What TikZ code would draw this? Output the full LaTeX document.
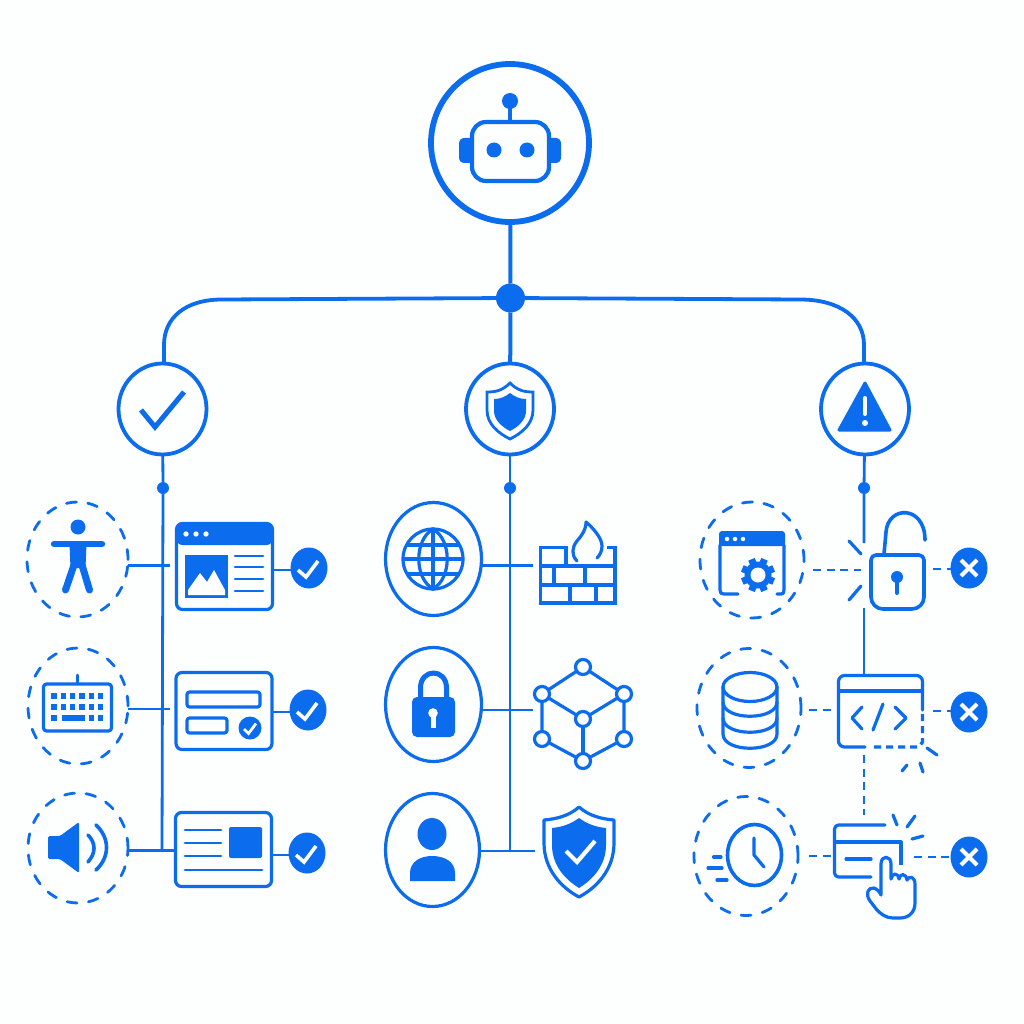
\documentclass[tikz,border=0pt]{standalone}
\usetikzlibrary{shapes.geometric,calc}
\definecolor{bl}{HTML}{0B6CEE}
\definecolor{bg}{HTML}{FDFEFE}
\tikzset{
  x=1pt,y=-1pt,
  every path/.style={line cap=round,line join=round},
  hubline/.style={draw=bl,line width=4pt,line cap=butt},
  wire/.style={draw=bl,line width=2.8pt,line cap=butt},
  dwire/.style={draw=bl,line width=2.8pt,line cap=butt,dash pattern=on 8pt off 5.5pt},
  ic/.style={draw=bl,line width=3.2pt},
  ict/.style={draw=bl,line width=2.9pt},
  ring/.style={ellipse,draw=bl,line width=3.2pt,inner sep=0pt,outer sep=0pt},
  cat/.style={ellipse,draw=bl,line width=3.8pt,inner sep=0pt,outer sep=0pt,minimum width=88pt,minimum height=91pt},
  dring/.style={ellipse,draw=bl,line width=2.8pt,inner sep=0pt,outer sep=0pt,dash pattern=on 10pt off 11.5pt},
  sdot/.style={ellipse,fill=bl,inner sep=0pt,outer sep=0pt,minimum width=37pt,minimum height=41pt},
  jdot/.style={circle,fill=bl,inner sep=0pt,outer sep=0pt,minimum size=12pt},
  card/.style={rectangle,draw=bl,line width=3.2pt,rounded corners=6pt,inner sep=0pt,outer sep=0pt},
  tick/.style={draw=white,line width=3.6pt,line join=miter,line cap=butt},
  cross/.style={draw=white,line width=4pt,line cap=butt},
}
\begin{document}
\begin{tikzpicture}
\useasboundingbox (0,0) rectangle (1024,1024);
\fill[bg] (0,0) rectangle (1024,1024);

% ---- main nodes
\node[circle,draw=bl,line width=5.8pt,inner sep=0pt,outer sep=0pt,minimum size=158pt] (root) at (510,143) {};
\node[circle,fill=bl,inner sep=0pt,outer sep=0pt,minimum size=29pt] (hub) at (510.5,298) {};
\node[cat] (c1) at (162.5,409) {};
\node[cat] (c2) at (510,409) {};
\node[cat] (c3) at (865,409) {};
\node[jdot] (j1) at (163,488) {};
\node[jdot] (j2) at (510,488) {};
\node[jdot] (j3) at (864,488) {};
\coordinate (cl) at (222,299.5);
\coordinate (cr) at (800,299.5);

% ---- trunk
\draw[hubline] (root) -- (hub);
\draw[hubline] (hub) -- (c2);
\draw[hubline,line width=3.8pt] (hub) -- (cl) .. controls (185,299.5) and (164,318) .. (164,345) -- (c1.north -| 164,0);
\draw[hubline,line width=3.8pt] (hub) -- (cr) .. controls (840,299.5) and (864,318) .. (864,345) -- (c3.north -| 864,0);

% ---- column rows
\node[dring,minimum width=101pt,minimum height=115pt] (a1) at (77.5,559.5) {};
\node[dring,minimum width=100pt,minimum height=116pt] (a2) at (78,706) {};
\node[dring,minimum width=100pt,minimum height=110pt] (a3) at (78,848) {};
\node[ring,minimum width=96pt,minimum height=113pt] (m1) at (433.5,559) {};
\node[ring,minimum width=96pt,minimum height=114pt] (m2) at (433.5,704.5) {};
\node[ring,minimum width=94pt,minimum height=113pt] (m3) at (432.5,850) {};
\node[dring,minimum width=104pt,minimum height=116pt] (r1) at (752,560) {};
\node[dring,minimum width=104pt,minimum height=119pt] (r2) at (749,708) {};
\node[dring,minimum width=104pt,minimum height=119pt] (r3) at (746,856) {};

\node[card,minimum width=96pt,minimum height=86pt] (b1) at (224.5,566.5) {};
\node[card,minimum width=96pt,minimum height=77pt] (b2) at (224,711) {};
\node[card,minimum width=96pt,minimum height=74pt] (b3) at (223.5,849.5) {};
\node[sdot] (k1) at (309,568) {};
\node[sdot] (k2) at (308,710) {};
\node[sdot] (k3) at (307,853) {};
\node[sdot] (x1) at (969,568) {};
\node[sdot] (x2) at (969,712) {};
\node[sdot] (x3) at (969,857) {};

\coordinate (a1e) at (128,565.5); \coordinate (a1f) at (170,565.5);
\coordinate (a2e) at (128,709);   \coordinate (a2f) at (170,709);
\coordinate (a3e) at (128,850.5);
\coordinate (m1e) at (482,565.5); \coordinate (m1f) at (533,565.5);
\coordinate (m2e) at (482,710);   \coordinate (m2f) at (533,710);
\coordinate (m3e) at (480,851);   \coordinate (m3f) at (535,851);
\coordinate (v1) at (162,851);
\coordinate (v2) at (510,851);

\draw[wire] (c1) -- (j1) -- (v1);
\draw[wire] (c2) -- (j2) -- (v2);
\draw[wire] (a1e) -- (a1f);
\draw[wire] (a2e) -- (a2f);
\draw[wire] (a3e) -- (a3e -| b3.west);
\draw[wire] (m1e) -- (m1f);
\draw[wire] (m2e) -- (m2f);
\draw[wire] (m3e) -- (m3f);
\draw[wire] (k1.west |- 0,570) -- (b1.east |- 0,570);
\draw[wire] (k2.west |- 0,712) -- (b2.east |- 0,712);
\draw[wire] (k3.west |- 0,855) -- (b3.east |- 0,855);

% right column wires
\coordinate (v3a) at (864,543);
\coordinate (v3b) at (864,608);
\coordinate (v3c) at (864,675);
\coordinate (v3d) at (864,755);
\coordinate (v3e) at (864,815);
\draw[wire] (c3) -- (j3) -- (v3a);
\draw[wire] (v3b) -- (v3c);
\draw[dwire] (v3d) -- (v3e);
\coordinate (r1e) at (813,570); \coordinate (r1f) at (861,570);
\coordinate (r2e) at (809,710); \coordinate (r2f) at (832,710);
\coordinate (r3e) at (809,856); \coordinate (r3f) at (832,856);
\coordinate (s1e) at (933,569);
\coordinate (s2e) at (933,711);
\coordinate (s3e) at (914,857);
\draw[dwire] (r1e) -- (r1f);
\draw[dwire] (r2e) -- (r2f);
\draw[dwire] (r3e) -- (r3f);
\draw[dwire] (s1e) -- (x1.west |- s1e);
\draw[dwire] (s2e) -- (x2.west |- s2e);
\draw[dwire] (s3e) -- (x3.west |- s3e);

% ---- robot
\draw[draw=bl,line width=4pt] (510,101) -- (510,120);
\fill[bl] (510,101) circle[radius=8];
\fill[bl] (470,138) -- (465,138) .. controls (461,138) and (459,140) .. (459,144) -- (459,157) .. controls (459,161) and (461,163) .. (465,163) -- (470,163) -- cycle;
\fill[bl] (551,138) -- (555,138) .. controls (559,138) and (561,140) .. (561,144) -- (561,157) .. controls (561,161) and (559,163) .. (555,163) -- (551,163) -- cycle;
\draw[draw=bl,line width=4.2pt,fill=bg,rounded corners=14pt] (472,122) rectangle (549,181);
\fill[bl] (494,150) circle[radius=7.5] (527,150) circle[radius=7.5];

% ---- category icons
\draw[draw=bl,line width=5pt,line join=miter,line cap=butt] (141,410) -- (155,427) -- (184,392);
\draw[draw=bl,line width=2.8pt,line join=miter] (510,383) .. controls (502,391) and (495,392) .. (487,392) -- (487,410) .. controls (487,424) and (498,433) .. (510,439) .. controls (522,433) and (533,424) .. (533,410) -- (533,392) .. controls (525,392) and (518,391) .. (510,383) -- cycle;
\fill[bl] (510,393) .. controls (505,397) and (500,399) .. (494,399) -- (494,411) .. controls (494,420) and (502,427) .. (510,431) .. controls (518,427) and (526,420) .. (526,411) -- (526,399) .. controls (520,399) and (515,397) .. (510,393) -- cycle;
\fill[bl,draw=bl,line width=3pt] (865,383) -- (890,430) -- (839,430) -- cycle;
\draw[draw=white,line width=4pt] (865,398) -- (865,414);
\fill[white] (865,423) circle[radius=3];

% ---- accessibility figure
\fill[bl] (78,527) circle[radius=7.5];
\draw[draw=bl,line width=6.5pt] (54,544) -- (102,544);
\fill[bl] (69.5,544) -- (86.5,544) -- (85.5,568) -- (70.5,568) -- cycle;
\draw[draw=bl,line width=7pt] (74,565) -- (65.5,590);
\draw[draw=bl,line width=7pt] (82,565) -- (89.5,590);

% ---- keyboard
\draw[ict,line width=3.2pt,rounded corners=3pt] (43.5,684) rectangle (111.5,731);
\draw[ict] (77.5,675) -- (77.5,684);
\foreach \yy in {696,707}{\foreach \xx in {54,63.3,72.6,81.9,91.2,100.5}{\fill[bl] (\xx-2.7,\yy-2.7) rectangle (\xx+2.7,\yy+2.7);}}
\foreach \xx in {54,91.2,100.5}{\fill[bl] (\xx-2.7,715.3) rectangle (\xx+2.7,720.7);}
\fill[bl] (62,715.3) rectangle (85,720.7);

% ---- speaker
\fill[bl,rounded corners=1.5pt] (48,836) -- (60,836) -- (79,822) -- (79,873) -- (60,859) -- (48,859) -- cycle;
\draw[draw=bl,line width=3.6pt] (88,835) .. controls (96,843) and (96,853) .. (88,862);
\draw[draw=bl,line width=3.6pt] (96,825) .. controls (110,838) and (110,857) .. (96,870);

% ---- box 1
\fill[bl,rounded corners=6pt] (176.5,523.5) rectangle (272.5,545);
\fill[bl] (176.5,535) rectangle (272.5,543);
\fill[white] (186,534) circle[radius=2.7] (196,534) circle[radius=2.7] (206,534) circle[radius=2.7];
\fill[bl] (184.5,554.5) rectangle (227.5,597.5);
\fill[white] (188,590) -- (200,573) -- (207,582) -- (214,570) -- (225,590) -- (225,595) -- (188,595) -- cycle;
\foreach \yy in {556,567,579,591}{\draw[ict] (235,\yy) -- (263,\yy);}

% ---- box 2
\draw[ic,rounded corners=2.5pt] (187,692) rectangle (260,707);
\draw[ic,rounded corners=2.5pt] (187,718) rectangle (227,733);
\node[circle,fill=bl,inner sep=0pt,outer sep=0pt,minimum size=23pt] (k2s) at (250,728) {};
\draw[tick,line width=2.8pt] ([shift={(-6,1)}]k2s.center) -- ([shift={(-1.5,5.5)}]k2s.center) -- ([shift={(6,-4.5)}]k2s.center);

% ---- box 3
\foreach \yy in {830,843,856}{\draw[ict] (185,\yy) -- (221,\yy);}
\draw[ict] (185,870) -- (262,870);
\fill[bl,rounded corners=2pt] (229,827) rectangle (262,858);

% ---- ok ticks
\foreach \n in {k1,k2,k3}{
  \draw[tick] ([shift={(-11,2)}]\n.center) -- ([shift={(-3,9)}]\n.center) -- ([shift={(9,-7)}]\n.center);
}

% ---- globe
\draw[ic] (433,559) circle[radius=30];
\draw[ic] (433,529) .. controls (414,540) and (414,578) .. (433,589) .. controls (452,578) and (452,540) .. (433,529);
\draw[ic] (433,529) -- (433,589);
\draw[ic,line cap=butt] (403,559) -- (463,559);
\draw[ic,line cap=butt] (406.5,545) -- (459.5,545);
\draw[ic,line cap=butt] (406.5,574) -- (459.5,574);

% ---- firewall
\draw[ic,line join=miter,line cap=butt] (566,566) -- (566,547.5) -- (540.5,547.5) -- (540.5,603) -- (615,603) -- (615,547.5) -- (607,547.5);
\draw[ic,line cap=butt] (540,566) -- (615,566);
\draw[ic,line cap=butt] (540,585) -- (615,585);
\draw[ic,line cap=butt] (554,566) -- (554,585);
\draw[ic,line cap=butt] (585,566) -- (585,585);
\draw[ic,line cap=butt] (570,585) -- (570,603);
\draw[ic,line cap=butt] (596,585) -- (596,603);
\draw[ic] (577,561) .. controls (571,555) and (572,547) .. (577,541) .. controls (582,535) and (586,530) .. (586,522) .. controls (593,528) and (602,538) .. (602,546) .. controls (602,551) and (600,555) .. (597,558);

% ---- closed lock
\fill[bl,rounded corners=5pt] (412,697) rectangle (455,737);
\draw[draw=bl,line width=5pt,line cap=butt] (420.5,698) -- (420.5,688) .. controls (420.5,668) and (446.5,668) .. (446.5,688) -- (446.5,698);
\fill[white] (433,713) circle[radius=4.8];
\fill[white] (430.5,713) rectangle (435.5,728);

% ---- cube
\coordinate (q1) at (583,667);
\coordinate (q2) at (542,694);
\coordinate (q3) at (624,694);
\coordinate (q4) at (583,719);
\coordinate (q5) at (542,739);
\coordinate (q6) at (624,739);
\coordinate (q7) at (583,761);
\draw[ic] (q2) -- (q1) -- (q3) -- (q4) -- (q2) -- (q5) -- (q7) -- (q6) -- (q3);
\draw[ic] (q4) -- (q7);
\foreach \q in {q1,q2,q3,q4,q5,q6,q7}{\draw[ic,fill=bg] (\q) circle[radius=7.5];}

% ---- user
\fill[bl] (432,834) ellipse[x radius=14.5,y radius=16];
\fill[bl] (410,881) -- (410,873) .. controls (410,862) and (420,856) .. (432,856) .. controls (445,856) and (455,862) .. (455,873) -- (455,881) -- cycle;

% ---- large shield
\draw[draw=bl,line width=3.2pt] (579,807) .. controls (569,816) and (556,819) .. (544,820) -- (544,843) .. controls (544,870) and (562,888) .. (579,897) .. controls (596,888) and (614,870) .. (614,843) -- (614,820) .. controls (602,819) and (589,816) .. (579,807) -- cycle;
\fill[bl] (579,818) .. controls (571,824) and (562,827) .. (552,828) -- (552,845) .. controls (552,866) and (566,880) .. (579,888) .. controls (592,880) and (606,866) .. (606,845) -- (606,828) .. controls (596,827) and (587,824) .. (579,818) -- cycle;
\draw[tick,line width=4.2pt] (566,851) -- (577,862) -- (595,841);

% ---- window with gear
\fill[bl,rounded corners=3pt] (719,531) rectangle (785,546);
\fill[bl] (719,540) rectangle (785,546);
\fill[white] (727,539) circle[radius=2.2] (735,539) circle[radius=2.2] (743,539) circle[radius=2.2];
\draw[ic] (720,545) -- (720,590) .. controls (720,593) and (721,594) .. (724,594) -- (738,594);
\draw[ic] (777,594) -- (781,594) .. controls (783,594) and (784,593) .. (784,590) -- (784,545);
\fill[bl] (758,575) circle[radius=13.5];
\foreach \a in {0,45,...,315}{\fill[bl,rotate around={\a+22.5:(758,575)}] (754.5,558) rectangle (761.5,566);}
\fill[bg] (758,575) circle[radius=7.5];

% ---- open lock
\draw[ic] (861,554) -- (849,541);
\draw[ic] (861,586) -- (849,600);
\draw[draw=bl,line width=3.6pt] (884,554) -- (886,532) .. controls (888,505) and (925,505) .. (925,540);
\draw[draw=bl,line width=3.6pt,fill=bg,rounded corners=5pt] (871,555) -- (924,555) -- (924,590) [rounded corners=12pt] -- (924,609) -- (871,609) [rounded corners=5pt] -- cycle;
\fill[bl] (897,577) circle[radius=6];
\draw[draw=bl,line width=4pt] (897,578) -- (897,593);

% ---- database
\draw[ic,fill=bg] (723,687) -- (723,734) .. controls (723,753) and (777,753) .. (777,734) -- (777,687);
\draw[ic] (723,702) .. controls (723,721) and (777,721) .. (777,702);
\draw[ic] (723,718) .. controls (723,737) and (777,737) .. (777,718);
\draw[ic] (750,687) ellipse[x radius=27,y radius=14.5];

% ---- code window
\draw[ic,rounded corners=6pt] (865,747) -- (838.5,747) -- (838.5,675.5) -- (922.5,675.5) -- (922.5,710);
\draw[ic,line cap=butt] (838.5,691) -- (922.5,691);
\draw[ic,line cap=butt,dash pattern=on 7pt off 5pt] (922.5,714) -- (922.5,742) -- (919,747) -- (873,747);
\draw[ic] (862,707) -- (852,718) -- (862,729);
\draw[ic] (883,704) -- (873,730);
\draw[ic] (895,707) -- (906,718) -- (895,729);
\draw[ic] (927,748) -- (937,755);
\draw[ic] (907,765) -- (902,771);
\draw[ic] (920,763) -- (923,772);

% ---- clock
\draw[draw=bl,line width=3.6pt] (754.5,855) ellipse[x radius=27,y radius=30.5];
\draw[ic] (754,838) -- (754,855) -- (764,867);
\draw[ic] (713.5,857) -- (721,857);
\draw[ic] (708,868) -- (722,868);
\draw[ic] (717,880) -- (727,880);

% ---- card
\draw[ic,rounded corners=4pt] (885,825) -- (834.5,825) -- (834.5,877) -- (871,877);
\draw[ic,line cap=butt] (834.5,842) -- (901,842) -- (901,865);
\draw[ic] (846,859) -- (871,859);
\draw[ic] (893,815) -- (897,825);
\draw[ic] (907,827) -- (915,816);
\draw[ic] (912,839) -- (923,836);
% hand
\draw[draw=bl,line width=3.2pt,fill=bg] (881,895) -- (881,864) .. controls (881,855) and (891,855) .. (891,864) -- (891,879)
  .. controls (892,873) and (898,872) .. (899,879) .. controls (900,873) and (906,873) .. (907,880) .. controls (909,875) and (915,877) .. (915,884)
  -- (915,903) .. controls (915,912) and (909,918) .. (900,918) -- (893,918) .. controls (886,918) and (881,914) .. (877,910)
  -- (870,901) .. controls (865,894) and (868,887) .. (874,888) .. controls (877,889) and (880,892) .. (881,895) -- cycle;

% ---- crosses
\foreach \n in {x1,x2,x3}{
  \draw[cross] ([shift={(-8,-8)}]\n.center) -- ([shift={(8,8)}]\n.center);
  \draw[cross] ([shift={(-8,8)}]\n.center) -- ([shift={(8,-8)}]\n.center);
}
\end{tikzpicture}
\end{document}
